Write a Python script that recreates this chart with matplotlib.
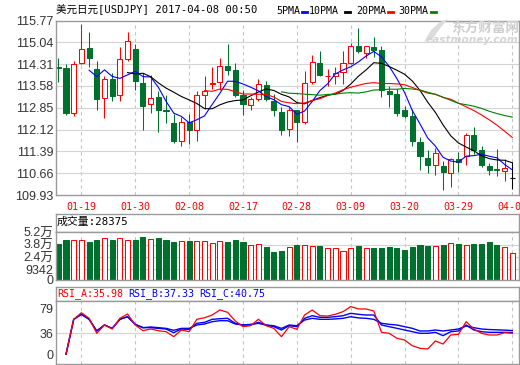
import matplotlib
matplotlib.use('Agg')
import matplotlib.pyplot as plt
from matplotlib.patches import Rectangle, Polygon
from matplotlib.lines import Line2D
import pandas as pd

# daily USDJPY candles, 2017-01-16 .. 2017-04-07
opens = [114.20, 114.19, 112.67, 114.36, 114.85, 114.15, 113.17, 113.81, 113.27, 114.48,
         114.82, 113.67, 112.98, 113.20, 112.76, 112.34, 111.75, 112.37, 112.09, 113.28,
         113.64, 113.70, 114.24, 114.12, 113.28, 112.95, 113.13, 113.62, 113.07, 112.71,
         112.13, 112.76, 112.36, 113.70, 114.34, 113.90, 113.92, 114.04, 114.36, 114.91,
         114.68, 114.88, 114.77, 113.40, 113.31, 112.76, 112.57, 111.70, 111.17, 110.92,
         110.90, 110.68, 111.14, 111.25, 111.94, 111.42, 110.90, 110.79, 110.73, 110.50]
highs = [114.52, 114.32, 114.43, 115.66, 115.38, 114.43, 113.92, 114.01, 114.88, 115.40,
         114.99, 114.01, 113.96, 113.40, 113.26, 112.65, 112.53, 112.65, 113.40, 113.90,
         114.21, 114.52, 114.99, 114.34, 113.45, 113.20, 113.81, 113.76, 113.31, 112.87,
         112.87, 112.78, 114.07, 114.63, 114.74, 114.15, 114.21, 114.74, 115.01, 115.51,
         114.93, 115.21, 114.93, 113.59, 113.48, 112.92, 112.81, 111.86, 111.42, 111.50,
         111.08, 111.17, 111.36, 111.99, 112.20, 111.58, 111.00, 111.47, 111.12, 111.04]
lows = [113.71, 112.62, 112.59, 114.32, 114.23, 112.79, 112.52, 113.06, 113.09, 114.40,
        113.46, 112.09, 112.67, 112.05, 112.33, 111.66, 111.58, 111.64, 111.75, 112.81,
        113.48, 113.45, 113.93, 113.20, 112.62, 112.79, 113.09, 113.07, 112.56, 111.95,
        111.92, 111.72, 112.31, 113.63, 113.90, 113.59, 113.63, 113.63, 114.30, 114.68,
        114.51, 114.54, 113.20, 112.89, 112.59, 112.50, 111.58, 110.75, 110.66, 110.61,
        110.11, 110.21, 110.71, 110.95, 111.31, 110.88, 110.61, 110.55, 110.41, 110.14]
closes = [114.19, 112.69, 114.32, 114.82, 114.51, 113.13, 113.81, 113.23, 114.48, 115.10,
          113.73, 112.92, 113.17, 112.76, 112.75, 111.75, 112.37, 112.09, 113.28, 113.40,
          113.67, 114.24, 114.10, 113.26, 112.96, 113.13, 113.63, 113.13, 112.76, 112.12,
          112.79, 112.36, 113.67, 114.38, 113.93, 113.92, 114.01, 114.34, 114.91, 114.74,
          114.91, 114.77, 113.45, 113.31, 112.69, 112.59, 111.75, 111.22, 110.95, 111.33,
          110.71, 111.12, 111.05, 111.94, 111.42, 110.95, 110.78, 110.78, 110.84, 110.50]
volumes = [38770, 43420, 43030, 43800, 41480, 43420, 45360, 43800, 45360, 43420,
           43420, 46910, 44580, 45360, 43420, 41090, 42640, 42260, 42640, 42640,
           39540, 42260, 41090, 43420, 41090, 37600, 38770, 35660, 29840, 31010,
           34890, 37600, 37600, 36440, 36440, 34110, 34110, 30620, 34110, 36440,
           34110, 34110, 34110, 35280, 34110, 31790, 35280, 37600, 36440, 36440,
           37600, 39540, 38770, 37600, 38770, 38770, 41090, 37600, 34890, 28375]
# RSI values start on the second day
rsi_a = [0, 60, 71.4, 61.8, 36, 50.3, 43.4, 61.8, 69.2, 50.3,
         40.5, 43.4, 40.5, 38.8, 30.2, 41.7, 38.8, 60.1, 62.8, 67.5,
         76.1, 72.1, 57.2, 47.4, 49.1, 60.1, 49.1, 44.5, 30.2, 47.4,
         42.8, 67.5, 76.1, 66.3, 65.7, 68.7, 73.3, 82, 78, 77.8,
         74.4, 37.7, 36, 27.4, 24.5, 14.7, 10.2, 9, 22.8, 17.6,
         33.1, 34.3, 56, 43.4, 36, 33.1, 33.1, 37.1, 35.98]
rsi_b = [0, 60, 68.7, 60.1, 40, 50.3, 44.5, 60.1, 64.6, 51.4,
         45.7, 45.7, 44.5, 43.4, 37.1, 43.4, 42.8, 53.2, 54.9, 60.1,
         61.1, 61.8, 53.2, 50.3, 50.3, 54.9, 50.3, 47.4, 41.7, 49.1,
         47.4, 61.8, 66.3, 63.5, 63.5, 64.6, 66.3, 70.4, 68.7, 67.5,
         67.5, 50.3, 47.4, 44.6, 41.7, 38.8, 36, 36, 37.7, 32,
         38.8, 40, 50.3, 41.7, 38.8, 37.7, 37.7, 37.7, 37.33]
rsi_c = [0, 60, 68.7, 60.1, 40, 50.3, 44.5, 60.1, 64.6, 51.4,
         45.7, 46.9, 45.7, 44.5, 41.2, 44.5, 44.5, 50.3, 52, 56,
         57.7, 57.7, 52, 50.3, 51.4, 53.2, 50.3, 49.1, 44.5, 50.3,
         49.1, 58.9, 61.8, 60.1, 60.1, 60.7, 61.8, 64.6, 62.5, 61.8,
         60.1, 53.2, 51.5, 50.3, 47.4, 44.6, 40, 40, 41.7, 40,
         41.7, 43.4, 48.6, 45.7, 43.4, 42.5, 42, 41.5, 40.75]

date_labels = ['01-19', '01-30', '02-08', '02-17', '02-28', '03-09', '03-20', '03-29', '04-07']
date_pos = [3, 10, 17, 24, 31, 38, 45, 52, 59]
price_ticks = [109.93, 110.66, 111.39, 112.12, 112.85, 113.58, 114.31, 115.04, 115.77]
vol_ticks = [-3102, 9342, 23642, 37942, 52242]
vol_labels = ['0', '9342', '2.4万', '3.8万', '5.2万']
rsi_ticks = [0, 36, 79]
ma_periods = [5, 10, 20, 30]
ma_colors = ['#0000ff', '#000000', '#ff0000', '#008000']

RED = '#ff0000'
GREEN = '#00702f'
FRAME = '#9a9a9a'
GRID = '#d4d4d4'
VGRID = '#c4c4c4'
MONO = ['DejaVu Sans Mono', 'Noto Sans CJK SC']
SANS = ['Liberation Sans', 'Noto Sans CJK SC']
SMALL = 7.2

W, H = 520, 365
fig = plt.figure(figsize=(W / 100, H / 100), dpi=100)
fig.patch.set_facecolor('white')


def rect(top, bottom, left=56, right=519):
    return [left / W, 1 - bottom / H, (right - left) / W, (bottom - top) / H]


def px(x, y):
    return x / W, 1 - y / H


ax = fig.add_axes(rect(20.5, 195))
vh = fig.add_axes(rect(214, 231.7))
av = fig.add_axes(rect(231.7, 280))
rh = fig.add_axes(rect(287, 301))
ar = fig.add_axes(rect(301, 364))

n = len(closes)
xs = list(range(n))
xlim = (-0.3, 59.87)
bw = 0.66
lw = 0.75

for a in (ax, vh, av, rh, ar):
    a.set_xlim(*xlim)
    for s in a.spines.values():
        s.set_color(FRAME)
        s.set_linewidth(1)
    a.tick_params(length=0, pad=2)
for a in (vh, rh):
    a.set_xticks([])
    a.set_yticks([])
for a in (ax, av, ar):
    for p in date_pos:
        a.axvline(p, color=VGRID, lw=0.8, ls=(0, (3, 3)), zorder=0)

# price panel
ax.set_ylim(price_ticks[0], price_ticks[-1])
ax.set_yticks(price_ticks)
ax.set_yticklabels(['%.2f' % t for t in price_ticks], family=SANS, fontsize=9, color='#333333')
for t in price_ticks[1:-1]:
    ax.axhline(t, color=GRID, lw=0.8, zorder=0)
ax.set_xticks(date_pos)
ax.set_xticklabels(date_labels, family=MONO, fontsize=SMALL, color=RED)
ax.tick_params(axis='x', pad=5)

for i, (o, h, l, c) in enumerate(zip(opens, highs, lows, closes)):
    if c > o:
        ax.vlines(i, c, h, color=RED, lw=lw, zorder=2)
        ax.vlines(i, l, o, color=RED, lw=lw, zorder=2)
        ax.add_patch(Rectangle((i - bw / 2, o), bw, c - o, facecolor='white',
                               edgecolor=RED, lw=lw, zorder=2))
    elif c < o:
        ax.vlines(i, l, h, color=GREEN, lw=lw, zorder=2)
        ax.add_patch(Rectangle((i - bw / 2, c), bw, o - c, facecolor=GREEN,
                               edgecolor=GREEN, lw=lw, zorder=2))
    else:
        ax.vlines(i, l, h, color='black', lw=lw, zorder=2)
        ax.hlines(c, i - bw / 2, i + bw / 2, color='black', lw=lw, zorder=2)

close_s = pd.Series(closes)
for per, col in zip(ma_periods, ma_colors):
    ax.plot(xs, close_s.rolling(per).mean(), color=col, lw=0.8, zorder=3)

# volume panel
av.set_ylim(vol_ticks[0], 53071)
av.set_yticks(vol_ticks)
av.set_yticklabels(vol_labels, family=SANS, fontsize=9, color='#333333')
av.set_xticks([])
for t in vol_ticks[1:4]:
    av.axhline(t, color=GRID, lw=0.8, zorder=0)
for i, (o, c, v) in enumerate(zip(opens, closes, volumes)):
    up = c >= o
    av.bar(i, v - vol_ticks[0], bottom=vol_ticks[0], width=bw,
           facecolor='white' if up else GREEN, edgecolor=RED if up else GREEN,
           lw=lw, zorder=2)
fig.text(*px(57, 222), '成交量:%d' % volumes[-1], family=MONO, fontsize=7.8,
         va='center', ha='left', color='black')

# RSI panel
ar.set_ylim(-16.8, 91.6)
ar.set_yticks(rsi_ticks)
ar.set_yticklabels([str(t) for t in rsi_ticks], family=SANS, fontsize=9, color='#333333')
ar.set_xticks([])
ar.axhline(36, color=GRID, lw=0.8, zorder=0)
rx = list(range(1, n))
ar.plot(rx, rsi_c, color='#0000ff', lw=1.0, zorder=2)
ar.plot(rx, rsi_b, color='#0000ff', lw=1.0, zorder=2)
ar.plot(rx, rsi_a, color=RED, lw=0.9, zorder=3)
rsi_head = [('RSI_A:%.2f' % rsi_a[-1], RED, 57), ('RSI_B:%.2f' % rsi_b[-1], '#0000ff', 128),
            ('RSI_C:%.2f' % rsi_c[-1], '#0000ff', 199)]
for txt, col, x0 in rsi_head:
    fig.text(*px(x0, 294), txt, family=MONO, fontsize=SMALL, color=col, va='center', ha='left')

# title and MA legend
fig.text(*px(56, 10), '美元日元[USDJPY] 2017-04-08 00:50', family=MONO, fontsize=7.6,
         va='center', ha='left', color='black')
leg_text_x = [276, 309, 356, 398]
leg_line_x = [302, 345, 388, 431]
for x0, x1, per, col in zip(leg_text_x, leg_line_x, ma_periods, ma_colors):
    fig.text(*px(x0, 11), '%dPMA' % per, family=MONO, fontsize=SMALL, va='center', ha='left')
    fig.add_artist(Line2D([x1 / W, (x1 + 5) / W], [1 - 11.5 / H] * 2, color=col, lw=2,
                          transform=fig.transFigure))

# watermark
logo = [px(424, 42), px(431, 30), px(440, 22), px(448, 19), px(441, 27), px(434, 37)]
fig.add_artist(Polygon(logo, closed=True, facecolor='#dcdcdc', edgecolor='none',
                       transform=fig.transFigure))
fig.text(*px(519, 28), '东方财富网', family=['Noto Sans CJK SC'], fontsize=9.8,
         weight='bold', color='#cfcfcf', va='center', ha='right')
fig.text(*px(518, 40), 'eastmoney.com', family=['DejaVu Sans'], fontsize=7.6,
         weight='bold', style='italic', color='#d4d4d4', va='center', ha='right')

fig.savefig('out.png', dpi=100, facecolor='white')
